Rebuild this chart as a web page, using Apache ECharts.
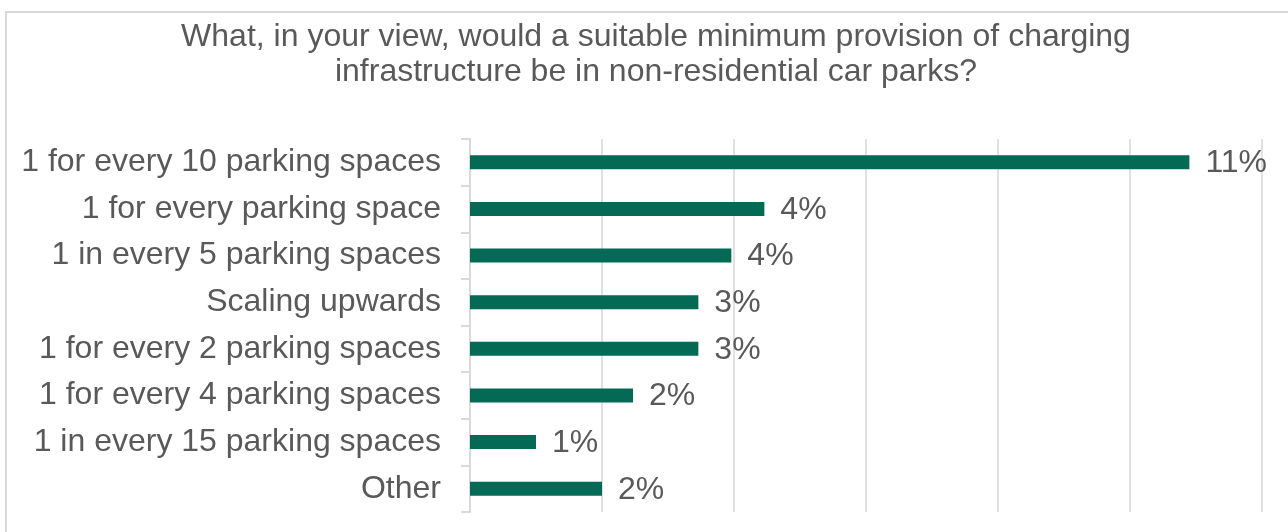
<!DOCTYPE html>
<html>
<head>
<meta charset="utf-8">
<style>
  html, body { margin: 0; padding: 0; background: #ffffff; }
  #chart { width: 1288px; height: 532px; }
</style>
<script src="https://cdn.jsdelivr.net/npm/echarts@6/dist/echarts.min.js"></script>
</head>
<body>
<div id="chart"></div>
<script>
// Survey responses: preferred minimum provision of chargers in non-residential car parks
const titleText = 'What, in your view, would a suitable minimum provision of charging\ninfrastructure be in non-residential car parks?';
const categories = [
  '1 for every 10 parking spaces',
  '1 for every parking space',
  '1 in every 5 parking spaces',
  'Scaling upwards',
  '1 for every 2 parking spaces',
  '1 for every 4 parking spaces',
  '1 in every 15 parking spaces',
  'Other'
];
// share of respondents, percent
const shares = [10.9, 4.46, 3.96, 3.46, 3.46, 2.47, 1.0, 2.0];
const axisMin = 0;
const axisMax = 12;
const axisStep = 2;

const textColor = '#595959';
const gridColor = '#d9d9d9';
const barColor = '#056a55';
const fontFamily = '"Liberation Sans", Arial, sans-serif';

const chart = echarts.init(document.getElementById('chart'), null, { renderer: 'canvas' });

chart.setOption({
  backgroundColor: '#ffffff',
  animation: false,
  graphic: [{
    type: 'rect',
    shape: { x: 6, y: 12, width: 1400, height: 700 },
    style: { fill: 'none', stroke: gridColor, lineWidth: 2 },
    silent: true
  }],
  title: {
    text: titleText,
    left: 656,
    top: 20,
    textAlign: 'center',
    padding: 0,
    textStyle: {
      color: textColor,
      fontFamily: fontFamily,
      fontSize: 32,
      fontWeight: 'normal',
      lineHeight: 35
    }
  },
  grid: { left: 470, right: 26, top: 139, bottom: 20, containLabel: false },
  xAxis: {
    type: 'value',
    min: axisMin,
    max: axisMax,
    interval: axisStep,
    axisLine: { show: false },
    axisTick: { show: false },
    axisLabel: { show: false },
    splitLine: { show: true, lineStyle: { color: '#e0e0e0', width: 2 } }
  },
  yAxis: {
    type: 'category',
    data: categories,
    inverse: true,
    axisLine: { show: true, lineStyle: { color: gridColor, width: 2 } },
    axisTick: { show: true, length: 9, lineStyle: { color: gridColor, width: 2 } },
    axisLabel: {
      margin: 29,
      color: textColor,
      fontFamily: fontFamily,
      fontSize: 32
    },
    splitLine: { show: false }
  },
  series: [{
    type: 'bar',
    data: shares,
    barWidth: 14,
    itemStyle: { color: barColor },
    label: {
      show: true,
      position: 'right',
      distance: 16,
      offset: [0, 1],
      color: textColor,
      fontFamily: fontFamily,
      fontSize: 32,
      formatter: p => Math.round(p.value) + '%'
    }
  }]
});
</script>
</body>
</html>
